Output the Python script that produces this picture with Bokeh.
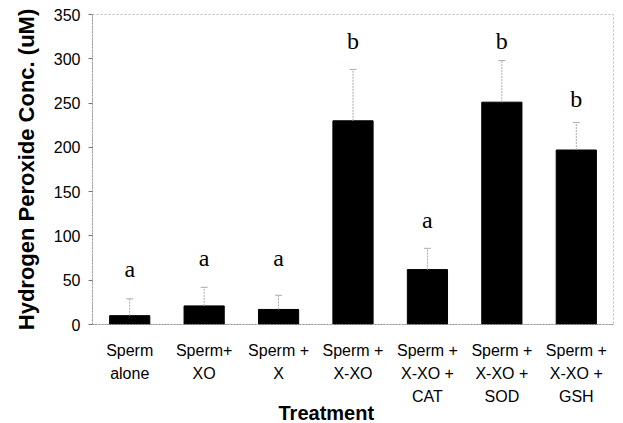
from bokeh.plotting import figure
from bokeh.models import ColumnDataSource, FactorRange, Range1d, FixedTicker, Title
from bokeh.core.properties import value
from bokeh.embed import file_html
from bokeh.resources import INLINE

categories = ["Sperm\nalone", "Sperm+\nXO", "Sperm +\nX", "Sperm +\nX-XO",
              "Sperm +\nX-XO +\nCAT", "Sperm +\nX-XO +\nSOD", "Sperm +\nX-XO +\nGSH"]
means = [10, 21, 17, 230, 62, 251, 197]
upper = [29, 42, 33, 288, 86, 298, 228]
letters = ["a", "a", "a", "b", "a", "b", "b"]
letter_y = [63, 75, 75, 320, 118, 320, 255]
y_ticks = [0, 50, 100, 150, 200, 250, 300, 350]

src = ColumnDataSource(dict(cat=categories, mean=means, up=upper,
                            letter=letters, ly=letter_y))

p = figure(x_range=FactorRange(*categories), y_range=Range1d(0, 350),
           frame_width=521, frame_height=310, output_backend="svg",
           toolbar_location=None,
           min_border_left=92, min_border_right=2, min_border_top=14,
           min_border_bottom=98)

p.vbar(x="cat", top="mean", width=0.54, source=src, fill_color="black",
       line_color="black")
p.segment(x0="cat", y0="mean", x1="cat", y1="up", source=src,
          line_color="#aaaaaa", line_width=1, line_dash="2 1")
p.scatter(x="cat", y="up", source=src, marker="dash", size=7,
          line_color="#aaaaaa", line_width=1)
p.text(x="cat", y="ly", text="letter", source=src, text_align="center",
       text_baseline="alphabetic", text_font=value("Liberation Serif"),
       text_font_size="24px", text_color="black")

p.xgrid.visible = False
p.ygrid.visible = False
p.outline_line_color = "#bbbbbb"
p.outline_line_dash = "2 2"

p.yaxis.ticker = FixedTicker(ticks=y_ticks)
p.yaxis.minor_tick_line_color = None
p.yaxis.major_tick_in = 0
p.yaxis.major_tick_out = 4
p.yaxis.major_tick_line_color = "#777777"
p.yaxis.axis_line_color = "#999999"
p.yaxis.axis_line_dash = "2 1"
p.yaxis.major_label_text_font = "Liberation Sans"
p.yaxis.major_label_text_font_size = "16px"
p.yaxis.major_label_text_color = "black"
p.yaxis.major_label_standoff = 8
p.yaxis.axis_label = "Hydrogen Peroxide Conc. (uM)"
p.yaxis.axis_label_text_font = "Liberation Sans"
p.yaxis.axis_label_text_font_style = "bold"
p.yaxis.axis_label_text_font_size = "22px"
p.yaxis.axis_label_text_color = "black"
p.yaxis.axis_label_standoff = 12

p.xaxis.major_tick_line_color = None
p.xaxis.minor_tick_line_color = None
p.xaxis.axis_line_color = "#999999"
p.xaxis.axis_line_dash = "2 1"
p.xaxis.major_label_text_font = "Liberation Sans"
p.xaxis.major_label_text_font_size = "16px"
p.xaxis.major_label_text_color = "black"
p.xaxis.major_label_text_line_height = 1.36
p.xaxis.major_label_standoff = 11

p.add_layout(Title(text="Treatment", align="left", offset=186, standoff=-16,
                   text_font="Liberation Sans", text_font_style="bold",
                   text_font_size="20px", text_color="black",
                   text_line_height=1.0), "below")

open("out.html", "w").write(file_html(p, INLINE))
